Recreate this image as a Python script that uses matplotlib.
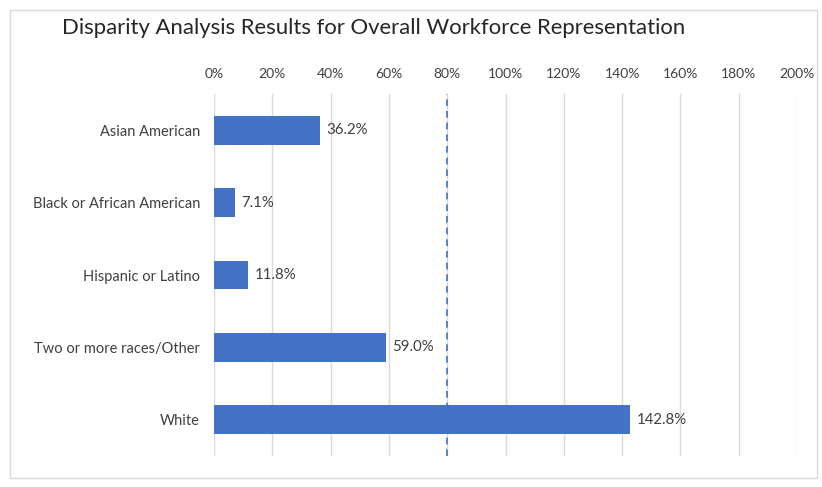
import matplotlib.pyplot as plt
from matplotlib.patches import Rectangle
from matplotlib.ticker import FuncFormatter

categories = ["Asian American", "Black or African American", "Hispanic or Latino",
              "Two or more races/Other", "White"]
values = [36.2, 7.1, 11.8, 59.0, 142.8]
threshold = 80
ticks = list(range(0, 201, 20))

plt.rcParams['font.family'] = ['Lato', 'DejaVu Sans']

W, H = 822, 487
fig = plt.figure(figsize=(W / 100, H / 100), dpi=100)

# light chart border
fig.patches.append(Rectangle((10 / W, 1 - 478 / H), 807 / W, 468 / H, transform=fig.transFigure,
                             fill=False, edgecolor="#d9d9d9", linewidth=1))

ax = fig.add_axes([214 / W, 1 - 456 / H, 583 / W, 362 / H])
y = range(len(categories))
ax.barh(y, values, height=0.4, color="#4472C4", zorder=3)
for yi, v in zip(y, values):
    ax.text(v + 2.2, yi, f"{v:.1f}%", va="center", ha="left", fontsize=10.8, color="#404040")

ax.axvline(threshold, color="#4472C4", linestyle=(0, (4, 3)), linewidth=1.2, zorder=4)

ax.set_xlim(0, 200)
ax.set_ylim(len(categories) - 0.5, -0.5)
ax.set_xticks(ticks)
ax.xaxis.set_major_formatter(FuncFormatter(lambda x, p: f"{x:.0f}%"))
ax.xaxis.tick_top()
ax.set_yticks(list(y))
ax.set_yticklabels(categories)
ax.tick_params(axis="both", length=0, labelcolor="#404040")
ax.tick_params(axis="x", pad=10, labelsize=10)
ax.tick_params(axis="y", pad=10, labelsize=10.5)
ax.grid(axis="x", color="#d9d9d9", linewidth=1, zorder=0)
for s in ax.spines.values():
    s.set_visible(False)

fig.text(62 / W, 1 - 28 / H, "Disparity Analysis Results for Overall Workforce Representation",
         fontsize=15.9, color="#262626", va="center", ha="left")

fig.savefig("out.png", dpi=100)
